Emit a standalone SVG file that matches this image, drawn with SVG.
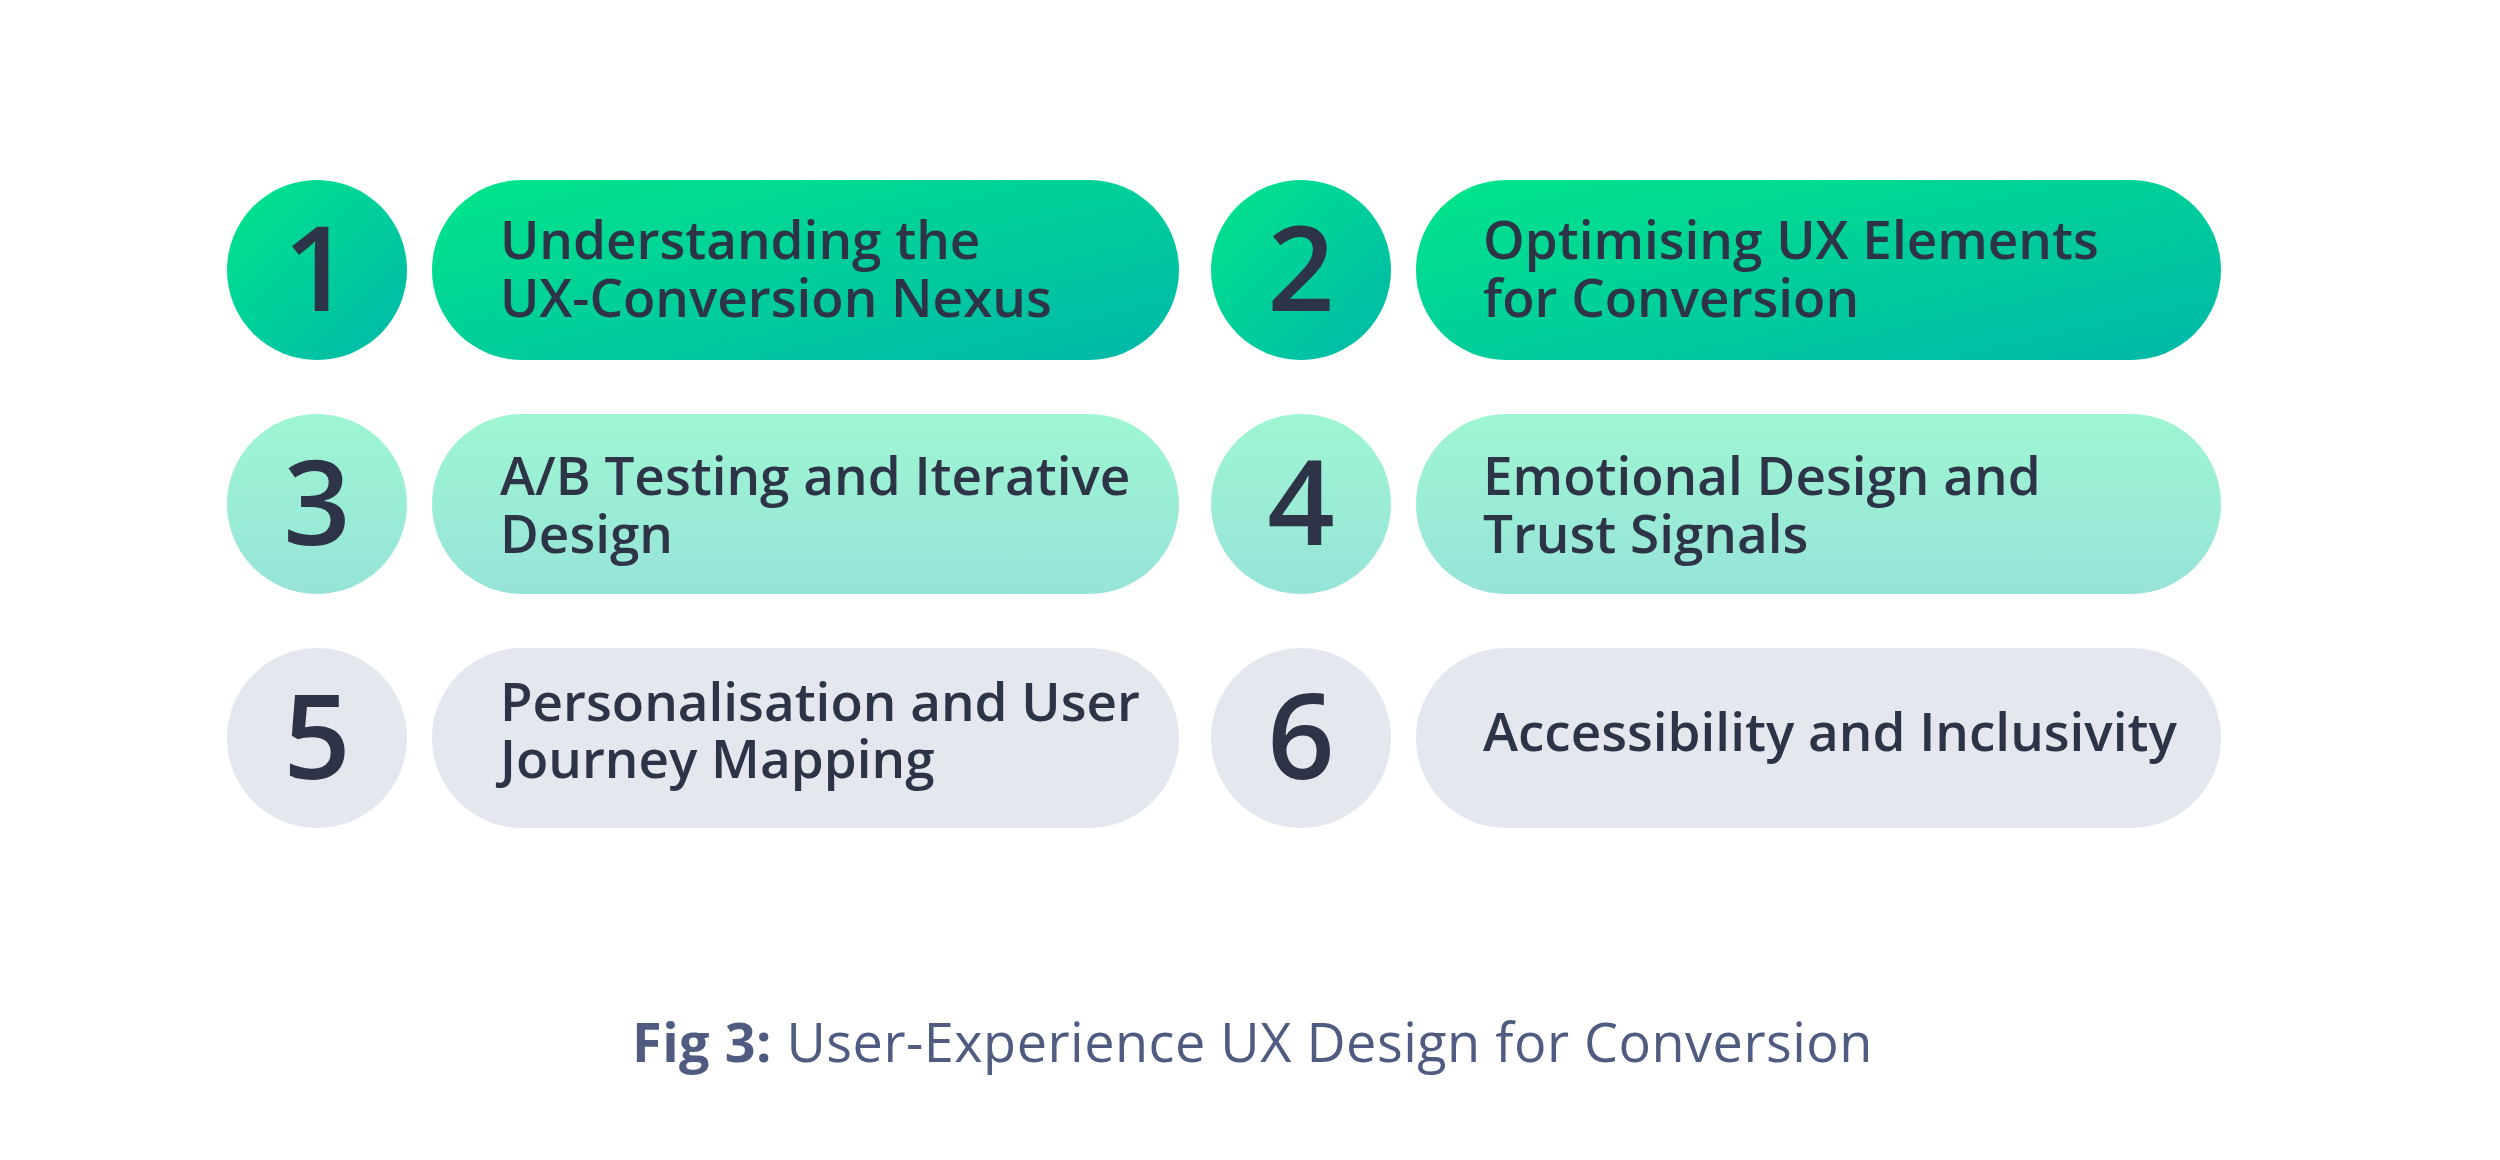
<svg xmlns="http://www.w3.org/2000/svg" width="2500" height="1160" viewBox="0 0 2500 1160">
<defs>
<linearGradient id="g1" x1="0" y1="0" x2="1" y2="1">
<stop offset="0" stop-color="#00e68a"/>
<stop offset="1" stop-color="#00b7aa"/>
</linearGradient>
<linearGradient id="g2" x1="0" y1="0" x2="0" y2="1">
<stop offset="0" stop-color="#9ef6d2"/>
<stop offset="1" stop-color="#97e3d9"/>
</linearGradient>
<style>
.g3{fill:#e4e7ee}
.num{font-family:"Open Sans","Liberation Sans",sans-serif;font-size:118px;font-weight:600;fill:#2e3447;text-anchor:middle}
.lbl{font-family:"Open Sans","Liberation Sans",sans-serif;font-size:53px;font-weight:560;fill:#2e3447}
.cap{font-family:"Open Sans","Liberation Sans",sans-serif;font-size:54px;font-weight:500;fill:#4f5b80;letter-spacing:0.5px}
</style>
</defs>
<rect width="2500" height="1160" fill="#ffffff"/>
<g id="node1">
<circle cx="317" cy="270" r="90" fill="url(#g1)"/>
<text class="num" x="317" y="311">1</text>
<rect x="432" y="180" width="747" height="180" rx="90" fill="url(#g1)"/>
<text class="lbl" x="500" y="259">Understanding the</text>
<text class="lbl" x="500" y="317">UX-Conversion Nexus</text>
</g>
<g id="node2">
<circle cx="1301" cy="270" r="90" fill="url(#g1)"/>
<text class="num" x="1301" y="311">2</text>
<rect x="1416" y="180" width="805" height="180" rx="90" fill="url(#g1)"/>
<text class="lbl" x="1483" y="259">Optimising UX Elements</text>
<text class="lbl" x="1483" y="317">for Conversion</text>
</g>
<g id="node3">
<circle cx="317" cy="504" r="90" fill="url(#g2)"/>
<text class="num" x="317" y="545">3</text>
<rect x="432" y="414" width="747" height="180" rx="90" fill="url(#g2)"/>
<text class="lbl" x="500" y="495">A/B Testing and Iterative</text>
<text class="lbl" x="500" y="553">Design</text>
</g>
<g id="node4">
<circle cx="1301" cy="504" r="90" fill="url(#g2)"/>
<text class="num" x="1301" y="545">4</text>
<rect x="1416" y="414" width="805" height="180" rx="90" fill="url(#g2)"/>
<text class="lbl" x="1483" y="495">Emotional Design and</text>
<text class="lbl" x="1483" y="553">Trust Signals</text>
</g>
<g id="node5">
<circle class="g3" cx="317" cy="738" r="90"/>
<text class="num" x="317" y="779">5</text>
<rect class="g3" x="432" y="648" width="747" height="180" rx="90"/>
<text class="lbl" x="500" y="721">Personalisation and User</text>
<text class="lbl" x="500" y="778">Journey Mapping</text>
</g>
<g id="node6">
<circle class="g3" cx="1301" cy="738" r="90"/>
<text class="num" x="1301" y="779">6</text>
<rect class="g3" x="1416" y="648" width="805" height="180" rx="90"/>
<text class="lbl" x="1483" y="751">Accessibility and Inclusivity</text>
</g>
<g id="connectors"/>
<text class="cap" x="632" y="1062"><tspan font-weight="700">Fig 3:</tspan> User-Experience UX Design for Conversion</text>
</svg>
